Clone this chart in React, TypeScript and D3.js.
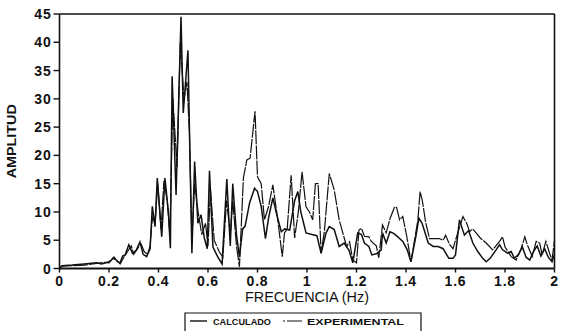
import React from 'react';
import * as d3 from 'd3';

// Calculado (solid)
const calcFreq = [
  0, 0.01, 0.05, 0.1, 0.15, 0.17, 0.2, 0.21, 0.22, 0.235, 0.245, 0.255, 0.265, 0.28, 0.295, 0.31, 0.325, 0.338, 0.352, 0.366,
  0.375, 0.386, 0.395, 0.413, 0.426, 0.44, 0.448, 0.455, 0.471, 0.491, 0.5, 0.519, 0.527, 0.535,
  0.546, 0.559, 0.572, 0.585, 0.597, 0.606, 0.62, 0.64, 0.657, 0.676, 0.69, 0.7, 0.715, 0.727,
  0.74, 0.75, 0.768, 0.788, 0.8, 0.815, 0.832, 0.845, 0.862, 0.875, 0.896, 0.91, 0.93, 0.95, 0.963, 0.975, 0.996,
  1.02, 1.04, 1.057, 1.077, 1.09, 1.11, 1.13, 1.15, 1.17, 1.185, 1.205, 1.22, 1.232, 1.25, 1.262, 1.28, 1.3, 1.305,
  1.32, 1.335, 1.35, 1.367, 1.387, 1.405, 1.42, 1.44, 1.452, 1.465, 1.475, 1.49, 1.51, 1.53, 1.55, 1.573, 1.59, 1.6,
  1.616, 1.636, 1.653, 1.67, 1.69, 1.71, 1.724, 1.74, 1.764, 1.778, 1.79, 1.81, 1.825, 1.838, 1.855, 1.87, 1.885, 1.9,
  1.915, 1.93, 1.945, 1.96, 1.975, 1.99, 2.0,
];
const calcAmp = [
  0, 0.5, 0.6, 0.8, 1.0, 0.8, 1.2, 1.5, 2, 1.2, 1, 2.2, 2.4, 4.2, 2.7, 3.2, 4.7, 2.5, 2.1, 3.5,
  11, 7.4, 16, 5.6, 16, 10, 3.6, 34, 13, 44.5, 27.5, 38.6, 20, 2.7,
  18.9, 8, 9.5, 5.4, 3.5, 17.3, 3.8, 2, 0.8, 15.8, 4, 15, 6, 2,
  7, 7.5, 11.6, 14.2, 13.6, 11, 5.3, 9, 12.5, 10, 6.5, 7, 6.8, 12, 13.6, 10, 6.3,
  6, 5.8, 2.7, 6.3, 7.4, 6.9, 3.9, 4.5, 3.2, 1, 6.3, 6, 4.5, 3.9, 2.4, 2.6, 3.3, 6.3,
  4.5, 6.5, 6.2, 5.6, 4.8, 3.3, 1.2, 5.7, 8.9, 8, 6.6, 4.5, 3.9, 3.9, 3.5, 1.8, 1.8, 2.4,
  8.6, 5.9, 6.7, 4.5, 3, 1.8, 1.2, 1.8, 3.3, 4.2, 3.3, 2.7, 3, 1.8, 2.5, 3.8, 2, 1.5,
  3, 4, 2.2, 3.5, 2, 1.2, 2.5,
];

// Experimental (dashed)
const expFreq = [
  0, 0.01, 0.05, 0.1, 0.15, 0.18, 0.2, 0.215, 0.23, 0.245, 0.26, 0.275, 0.29, 0.3, 0.315, 0.33, 0.342, 0.356, 0.366,
  0.375, 0.386, 0.397, 0.41, 0.422, 0.435, 0.446, 0.458, 0.475, 0.488, 0.503, 0.515, 0.525, 0.535,
  0.546, 0.56, 0.575, 0.59, 0.6, 0.61, 0.625, 0.645, 0.66, 0.675, 0.69, 0.7, 0.715, 0.727,
  0.743, 0.757, 0.77, 0.79, 0.8, 0.815, 0.828, 0.845, 0.862, 0.882, 0.9, 0.909, 0.92, 0.936, 0.95, 0.965, 0.98, 0.996,
  1.01, 1.023, 1.034, 1.045, 1.057, 1.07, 1.09, 1.11, 1.13, 1.16, 1.172, 1.185, 1.2, 1.21, 1.22, 1.232, 1.25, 1.26,
  1.28, 1.29, 1.305, 1.32, 1.336, 1.354, 1.362, 1.374, 1.387, 1.403, 1.42, 1.43, 1.448, 1.457, 1.466, 1.48, 1.495,
  1.52, 1.535, 1.55, 1.56, 1.575, 1.59, 1.6, 1.63, 1.646, 1.657, 1.67, 1.683, 1.7, 1.724, 1.75, 1.778, 1.79, 1.8,
  1.825, 1.845, 1.865, 1.88, 1.89, 1.91, 1.926, 1.94, 1.95, 1.965, 1.98, 1.99, 2.0,
];
const expAmp = [
  0, 0.4, 0.5, 0.6, 0.9, 1.1, 1, 1.8, 1.5, 0.8, 2, 3, 4, 2.5, 3.5, 4.3, 3, 2.5, 4,
  9, 8, 15, 7, 15.5, 12, 6, 30, 18, 40, 30, 33, 24, 5,
  15, 10, 6, 8, 4, 14, 5, 3, 2, 12, 6, 12, 4, 0.3,
  16, 19.2, 19.5, 27.8, 16.2, 15, 8.6, 11, 14.8, 8.6, 2.1, 6.3, 7, 16.5, 5.4, 10, 17.1, 10.9,
  10, 8.6, 15, 15, 2.7, 6.5, 16.8, 13.9, 8.6, 3.9, 4.7, 1.5, 1, 6.8, 7.1, 5.7, 5.6, 4.8,
  4, 1.9, 7.7, 6.3, 8.9, 10.9, 10.8, 8.6, 9.2, 5.7, 1.2, 3.8, 8.6, 13.6, 12, 8, 5.3,
  5.3, 5.3, 5, 5.9, 4.3, 3.5, 5, 9.2, 7.9, 6.5, 7, 6.3, 5.4, 4.5, 3.3, 4.8, 5.6, 3.8,
  2.1, 1.5, 3.5, 5.6, 4.2, 2.1, 4.8, 4.5, 2.4, 4.8, 2.7, 1.5, 5,
];

const xTicks = [0, 0.2, 0.4, 0.6, 0.8, 1, 1.2, 1.4, 1.6, 1.8, 2];
const yTicks = [0, 5, 10, 15, 20, 25, 30, 35, 40, 45];

const W = 562;
const H = 331;
const font = '"Liberation Sans", Arial, sans-serif';

export default function App() {
  const x = d3.scaleLinear().domain([0, 2]).range([59.5, 554.5]);
  const y = d3.scaleLinear().domain([0, 45]).range([268.5, 14]);

  const line = d3
    .line<[number, number]>()
    .x((d) => x(d[0]))
    .y((d) => y(d[1]));

  const calc = calcFreq.map((f, i) => [f, calcAmp[i]] as [number, number]);
  const exp = expFreq.map((f, i) => [f, expAmp[i]] as [number, number]);

  return (
    <svg width={W} height={H} style={{ position: 'absolute', left: 0, top: 0, background: '#fff' }}>
      {/* series */}
      <path d={line(exp) || ''} fill="none" stroke="#111" strokeWidth={1.2} strokeDasharray="14,1.2" />
      <path d={line(calc) || ''} fill="none" stroke="#111" strokeWidth={1.5} />

      {/* frame */}
      <line x1={x(0)} x2={x(2)} y1={y(45)} y2={y(45)} stroke="#111" strokeWidth={1.6} />
      <line x1={x(2)} x2={x(2)} y1={y(45)} y2={y(0)} stroke="#111" strokeWidth={1.6} />
      <line x1={x(0)} x2={x(0)} y1={y(45)} y2={y(0)} stroke="#111" strokeWidth={1.6} />
      <line x1={x(0)} x2={x(2)} y1={y(0)} y2={y(0)} stroke="#111" strokeWidth={1.8} />

      {/* y ticks */}
      {yTicks.map((t) => (
        <g key={'y' + t}>
          <line x1={x(0) - 6} x2={x(0)} y1={y(t)} y2={y(t)} stroke="#111" strokeWidth={1.4} />
          <text
            x={x(0) - 8}
            y={y(t)}
            dy="0.36em"
            textAnchor="end"
            fontFamily={font}
            fontWeight="bold"
            fontSize={14}
            letterSpacing={0.8}
            fill="#111"
          >
            {t}
          </text>
        </g>
      ))}

      {/* x ticks */}
      {xTicks.map((t) => (
        <g key={'x' + t}>
          <line x1={x(t)} x2={x(t)} y1={y(0)} y2={y(0) + 4} stroke="#111" strokeWidth={1.4} />
          <text
            x={x(t)}
            y={y(0) + 17}
            textAnchor="middle"
            fontFamily={font}
            fontWeight="bold"
            fontSize={14}
            letterSpacing={0.8}
            fill="#111"
          >
            {t}
          </text>
        </g>
      ))}

      {/* axis titles */}
      <text
        transform={`translate(16, ${(y(0) + y(45)) / 2}) rotate(-90)`}
        textAnchor="middle"
        fontFamily={font}
        fontSize={12}
        fontWeight="bold"
        textLength={74}
        lengthAdjust="spacingAndGlyphs"
        fill="#111"
      >
        AMPLITUD
      </text>
      <text
        x={(x(0) + x(2)) / 2}
        y={302}
        textAnchor="middle"
        fontFamily={font}
        fontSize={14}
        textLength={124}
        lengthAdjust="spacingAndGlyphs"
        fill="#111"
      >
        FRECUENCIA (Hz)
      </text>

      {/* legend */}
      <g>
        <polyline points="185,335 185,313 421,313 421,335" fill="none" stroke="#111" strokeWidth={1.2} />
        <line x1={190} x2={207} y1={321} y2={321} stroke="#111" strokeWidth={1.4} />
        <text x={213} y={324.5} fontFamily={font} fontWeight="bold" fontSize={9.5} textLength={58} lengthAdjust="spacingAndGlyphs" fill="#111">
          CALCULADO
        </text>
        <line x1={283} x2={302} y1={321} y2={321} stroke="#111" strokeWidth={1.2} strokeDasharray="2,2,15" />
        <text x={307} y={324.5} fontFamily={font} fontWeight="bold" fontSize={9.5} textLength={97} lengthAdjust="spacingAndGlyphs" fill="#111">
          EXPERIMENTAL
        </text>
      </g>
    </svg>
  );
}
